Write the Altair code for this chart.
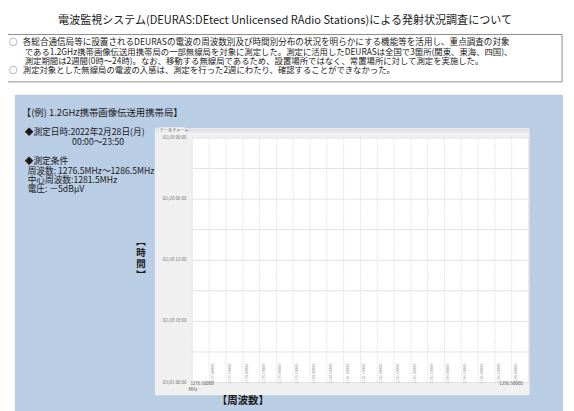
import altair as alt
import pandas as pd

JP = "Noto Sans CJK JP"

# ---- text content ----
title_text = "電波監視システム(DEURAS:DEtect Unlicensed RAdio Stations)による発射状況調査について"
note_lines = [
    "各総合通信局等に設置されるDEURASの電波の周波数別及び時間別分布の状況を明らかにする機能等を活用し、重点調査の対象",
    "である1.2GHz携帯画像伝送用携帯局の一部無線局を対象に測定した。測定に活用したDEURASは全国で3箇所(関東、東海、四国)、",
    "測定期間は2週間(0時～24時)。なお、移動する無線局であるため、設置場所ではなく、常置場所に対して測定を実施した。",
    "測定対象とした無線局の電波の入感は、測定を行った2週にわたり、確認することができなかった。",
]
panel_title = "【(例) 1.2GHz携帯画像伝送用携帯局】"
cond_lines = [
    "◆測定日時:2022年2月28日(月)",
    "00:00～23:50",
    "◆測定条件",
    "周波数: 1276.5MHz～1286.5MHz",
    "中心周波数:1281.5MHz",
    "電圧: －5dBμV",
]
frame_caption = "データチャート"
time_axis_title = ["︻", "時", "間", "︼"]
freq_axis_title = "【周波数】"

# ---- chart axes data ----
freq_domain = [1276.5, 1286.5]
freq_grid = [1276.5, 1277.0, 1277.5, 1278.0, 1278.5, 1279.0, 1279.5, 1280.0, 1280.5, 1281.0,
             1281.5, 1282.0, 1282.5, 1283.0, 1283.5, 1284.0, 1284.5, 1285.0, 1285.5, 1286.0, 1286.5]
freq_inner_labels = freq_grid[1:-1]
hour_domain = [0, 24]
hour_grid = [0, 3, 6, 9, 12, 15, 18, 21, 24]
time_label_hours = [0, 6, 12, 18, 24]
time_labels = ["02/28 00:00", "02/28 06:00", "02/28 12:00", "02/28 18:00", "03/01 00:00"]
freq_end_labels = ["1276.50000", "1286.50000"]

W, H = 341, 248
xs = alt.Scale(domain=freq_domain, nice=False, zero=False)
ys = alt.Scale(domain=hour_domain, nice=False, zero=False, reverse=True)

one = pd.DataFrame({"k": [0]})


def box(x1, x2, y1, y2, **kw):
    return alt.Chart(one).mark_rect(**kw).encode(
        x=alt.value(x1), x2=alt.value(x2), y=alt.value(y1), y2=alt.value(y2))


def txt(s, x, y, size, **kw):
    return alt.Chart(one).mark_text(text=s, fontSize=size, font=JP, **kw).encode(
        x=alt.value(x), y=alt.value(y))


def hrule(x1, x2, y, color, width=1):
    return alt.Chart(one).mark_rule(color=color, strokeWidth=width).encode(
        x=alt.value(x1), x2=alt.value(x2), y=alt.value(y))


layers = []
# blue panel
layers.append(box(-180, 376, -44, 290, color="#b9cde5"))
# grey frame of the chart widget
layers.append(box(-38, 342, -10, 261, color="#f0f0f0"))
layers.append(hrule(-37, 342, -8, "#d4d0dc"))
layers.append(hrule(-37, 342, -6, "#e6e4ea"))
layers.append(box(-34, -8, -11, -3, color="#f0f0f0"))
layers.append(txt(frame_caption, -33, -7, 4.2, align="left", baseline="middle", color="#555555"))

# white plot area
plot_df = pd.DataFrame({"f1": [freq_domain[0]], "f2": [freq_domain[1]],
                        "h1": [hour_domain[0]], "h2": [hour_domain[1]]})
layers.append(alt.Chart(plot_df).mark_rect(color="white").encode(
    x=alt.X("f1:Q", scale=xs, axis=None), x2="f2",
    y=alt.Y("h1:Q", scale=ys, axis=None), y2="h2"))

# grid lines
vg = pd.DataFrame({"f": freq_grid})
layers.append(alt.Chart(vg).mark_rule(color="#d9d9d9", strokeWidth=1, strokeDash=[1, 1]).encode(
    x=alt.X("f:Q", scale=xs, axis=None), y=alt.value(0), y2=alt.value(H)))
hg = pd.DataFrame({"h": hour_grid})
layers.append(alt.Chart(hg).mark_rule(color="#e3e3e3", strokeWidth=1).encode(
    y=alt.Y("h:Q", scale=ys, axis=None), x=alt.value(0), x2=alt.value(W)))

# time labels
tl = pd.DataFrame({"h": time_label_hours, "lab": time_labels})
layers.append(alt.Chart(tl).mark_text(font=JP, fontSize=4.5, align="right", baseline="middle",
                                      color="#707070").encode(
    y=alt.Y("h:Q", scale=ys, axis=None), x=alt.value(-6), text="lab:N"))

# rotated inner frequency labels
il = pd.DataFrame({"f": freq_inner_labels,
                   "lab": [f"{v:.5f}" for v in freq_inner_labels]})
layers.append(alt.Chart(il).mark_text(font=JP, fontSize=3.8, angle=270, align="center",
                                      baseline="top", dy=2, color="#a0a0a0").encode(
    x=alt.X("f:Q", scale=xs, axis=None), y=alt.value(239), text="lab:N"))

# end frequency labels
el = pd.DataFrame({"f": freq_domain, "lab": freq_end_labels})
layers.append(alt.Chart(el.iloc[[0]]).mark_text(font=JP, fontSize=4.5, align="left", baseline="middle",
                                                dx=-2, color="#505050").encode(
    x=alt.X("f:Q", scale=xs, axis=None), y=alt.value(250), text="lab:N"))
layers.append(alt.Chart(el.iloc[[1]]).mark_text(font=JP, fontSize=4.5, align="right", baseline="middle",
                                                dx=-6, color="#505050").encode(
    x=alt.X("f:Q", scale=xs, axis=None), y=alt.value(250), text="lab:N"))
layers.append(txt("MHz", -4, 256, 4.5, align="left", baseline="middle", color="#505050"))

# axis titles (vertical time title as separate glyphs)
for i, ch in enumerate(time_axis_title):
    layers.append(txt(ch, -52, 106 + 11 * i, 9.6, align="center", baseline="middle",
                      fontWeight="bold", color="#1a1a1a"))
layers.append(txt(freq_axis_title, 25, 267, 10.5, align="left", baseline="middle",
                  fontWeight="bold", color="#1a1a1a"))

# left condition text
layers.append(txt(panel_title, -173, -25, 9.5, align="left", baseline="middle", color="#1a1a1a"))
cond_pos = [(-170, -6), (-122, 4), (-170, 23), (-167, 33), (-167, 43), (-167, 52)]
for s, (x, y) in zip(cond_lines, cond_pos):
    layers.append(txt(s, x, y, 8.8, align="left", baseline="middle", color="#1a1a1a"))

# title and notes box
layers.append(txt(title_text, 94, -119, 11.2, align="center", baseline="middle", color="#1a1a1a"))
layers.append(box(-192, 375, -105, -57, fill="white", stroke="#8c8c8c", strokeWidth=1))
note_pos = [(-172, -97), (-170, -87.5), (-170, -78), (-172, -68.5)]
note_size = [8.7, 8.5, 8.5, 8.5]
for s, (x, y), fs in zip(note_lines, note_pos, note_size):
    layers.append(txt(s, x, y, fs, align="left", baseline="middle", color="#1a1a1a"))
for y in (-97, -68.5):
    layers.append(txt("○", -186, y, 8.5, align="left", baseline="middle", color="#1a1a1a"))

chart = alt.layer(*layers).properties(
    width=W, height=H,
    autosize=alt.AutoSizeParams(type="none"),
    padding={"left": 187, "top": 129, "right": 38, "bottom": 26},
).configure_view(stroke=None)

chart.save("out.html", embed_options={"renderer": "svg", "actions": False})
